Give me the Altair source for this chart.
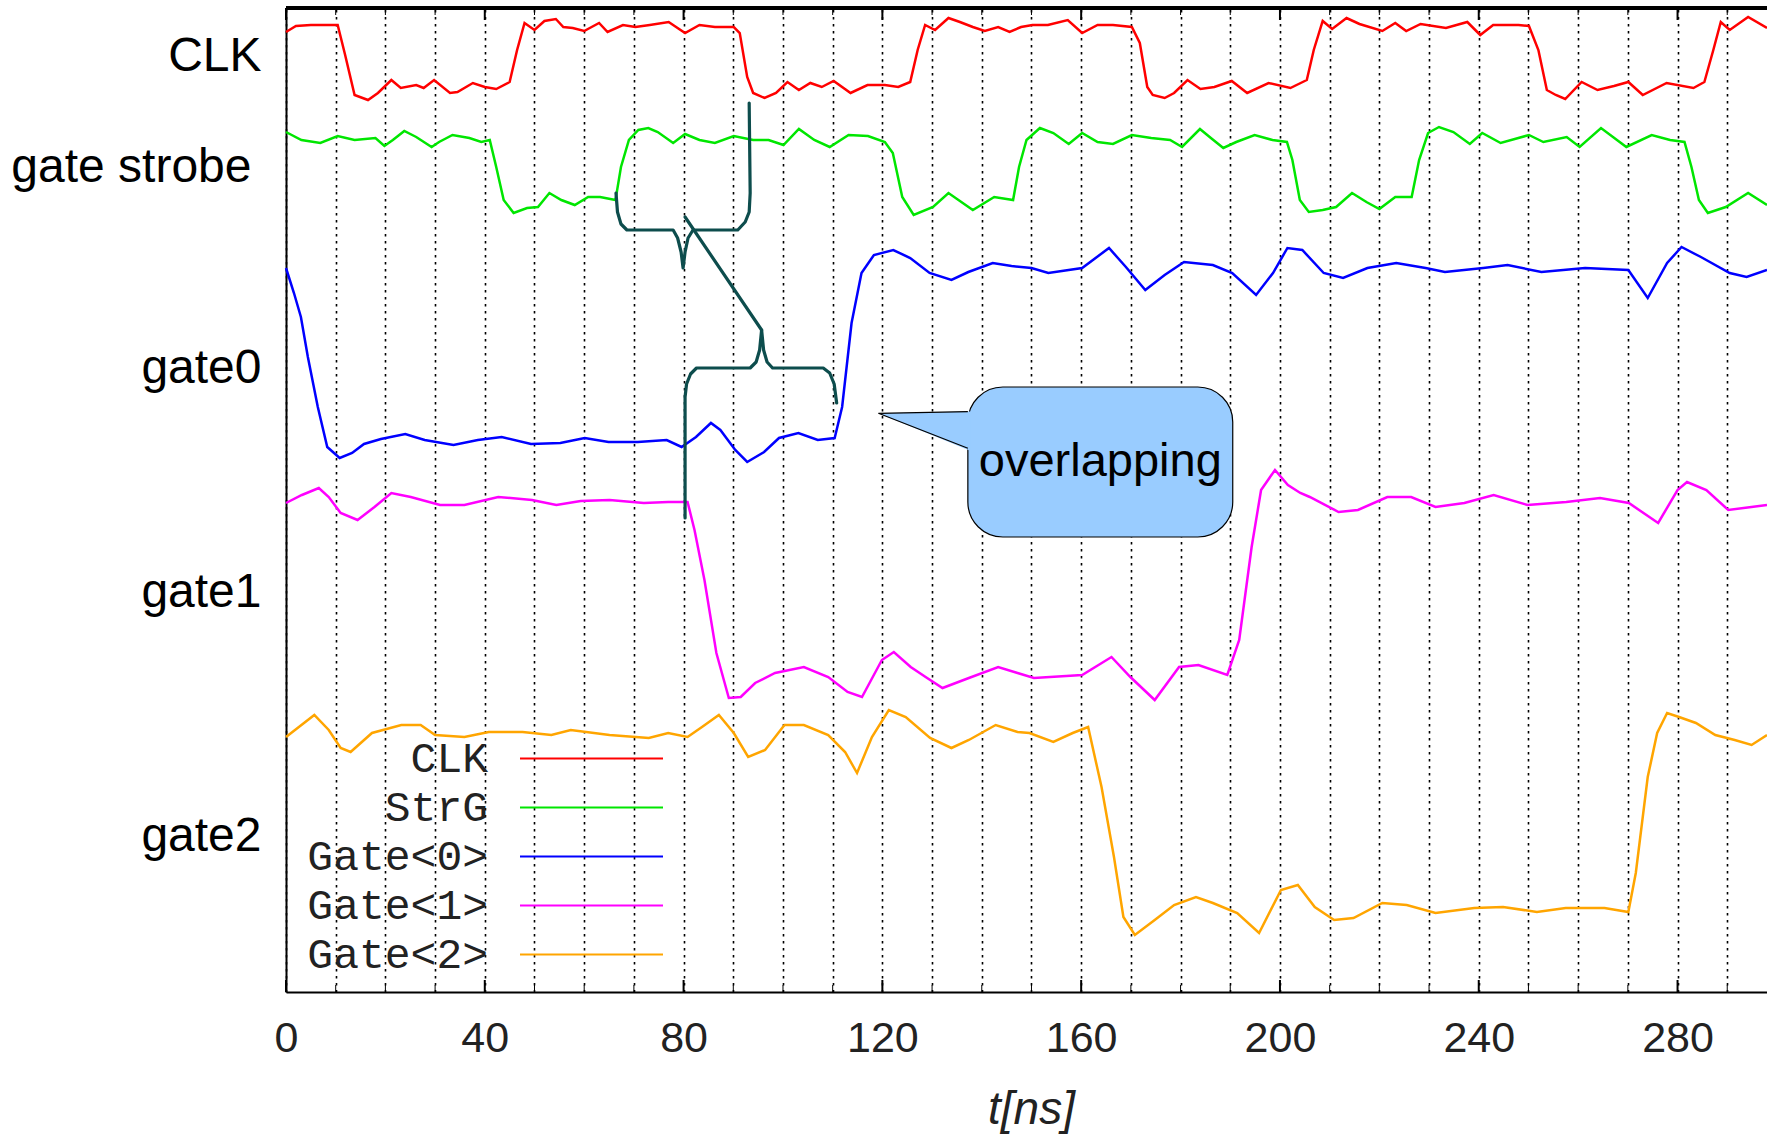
import altair as alt
import pandas as pd

# ---------------- data (t in ns, level = trace height, 8 = top, 992 = bottom) ----
X_TICKS = [0, 10, 20, 30, 40, 50, 60, 70, 80, 90, 100, 110, 120, 130, 140, 150,
           160, 170, 180, 190, 200, 210, 220, 230, 240, 250, 260, 270, 280, 290]
MAJOR_TICKS = [0, 40, 80, 120, 160, 200, 240, 280]

SERIES = ["CLK", "StrG", "Gate<0>", "Gate<1>", "Gate<2>"]
COLORS = ["#ff0000", "#00e600", "#0000ff", "#ff00ff", "#ffa500"]

TRACE_LABELS = ["CLK", "gate strobe", "gate0", "gate1", "gate2"]
TRACE_LABEL_LEVELS = [70, 181, 382, 606, 850]

CLK = [(0, 32), (2, 26), (5, 25), (10.4, 25), (11.9, 55), (13.8, 95), (16.5, 100), (18.5, 93),
       (21.2, 80), (23.1, 88), (26.2, 85), (27.7, 88), (29.8, 80), (33, 93), (34.5, 92), (37.6, 83),
       (40, 87), (42.3, 89), (45, 82), (46.5, 50), (48, 23), (50, 30), (52, 21), (54.3, 19),
       (55.8, 27), (57.7, 28), (60, 31), (63, 23), (64.7, 32), (67.8, 25), (70.3, 27), (73.2, 25),
       (77, 22), (80.3, 33), (83.2, 25), (86.3, 27), (90.1, 27), (91.3, 33), (92.8, 77), (94, 93),
       (96.3, 98), (98.6, 93), (100.9, 82), (103.2, 90), (105.5, 83), (107.8, 87), (110.2, 81),
       (113.6, 93), (117, 85), (120.5, 85), (123.2, 87), (125.6, 82), (127.1, 50), (128.6, 25),
       (130.6, 30), (133.3, 18), (135.6, 22), (138.2, 27), (140.6, 31), (143.3, 27), (145.6, 32),
       (147.9, 27), (150.2, 25), (153.3, 25), (157.3, 20), (160.2, 33), (163.3, 25), (166.4, 25),
       (170.2, 27), (171.8, 43), (173.3, 87), (174.4, 95), (176.8, 98), (178.7, 93), (181.4, 80),
       (184, 89), (186.8, 87), (190.3, 81), (193.4, 93), (197.7, 83), (202.1, 88), (205.4, 80),
       (206.8, 50), (208.6, 21), (210.5, 29), (213.4, 18), (216, 24), (220.6, 31), (223.2, 23),
       (225.4, 31), (228.3, 24), (233.4, 28), (237.7, 22), (240.3, 35), (242.9, 25), (248, 25),
       (250.1, 26), (252, 50), (253.7, 90), (255.5, 95), (257.4, 99), (260.7, 82), (263.9, 90),
       (267.2, 86), (270.1, 82), (273, 95), (277.8, 83), (283.2, 88), (285.4, 82), (287.2, 50),
       (288.7, 22), (290.5, 30), (294.2, 17), (298, 28)]

STRG = [(0, 132), (3.1, 140), (6.9, 143), (10.4, 136), (13.8, 140), (18, 138), (19.8, 146),
        (21.5, 140), (23.8, 131), (26.2, 137), (29.3, 147), (30.8, 142), (33.5, 135), (36.9, 138),
        (39.3, 142), (41, 140), (42.3, 167), (43.8, 200), (45.8, 213), (48.5, 208), (50.7, 207),
        (53, 193), (55.4, 200), (58.1, 205), (60.8, 197), (63.2, 197), (66.3, 200), (67.4, 167),
        (69, 140), (70.9, 130), (72.9, 128), (74.8, 132), (77.9, 143), (80.3, 134), (83.2, 140),
        (86.3, 143), (90.1, 136), (94, 140), (97.1, 140), (100.1, 145), (103.2, 129), (106.3, 140),
        (109.4, 147), (113.2, 135), (117.1, 136), (120.5, 142), (122.1, 153), (124, 197),
        (126.3, 215), (130.2, 207), (133.3, 193), (138.2, 210), (142.5, 197), (146.3, 200),
        (147.5, 167), (149, 140), (151.7, 128), (154.4, 133), (157.5, 144), (160.2, 133),
        (163.3, 142), (166.4, 144), (170.2, 135), (174.1, 138), (177.9, 140), (180.3, 147),
        (183.9, 129), (186.1, 138), (188.6, 148), (191.2, 142), (194.9, 135), (198.5, 140),
        (201.4, 142), (202.5, 160), (204, 200), (205.8, 212), (208.6, 210), (211.3, 207),
        (214.5, 193), (217.4, 202), (220, 209), (223.2, 197), (226.5, 197), (228, 160),
        (229.8, 133), (232, 127), (234.9, 132), (238.2, 144), (240.7, 133), (244.4, 143),
        (250.1, 135), (253, 142), (257.7, 137), (260.3, 147), (264.6, 128), (269.7, 147),
        (274.8, 135), (278.5, 140), (281.4, 142), (282.8, 167), (284.3, 200), (286.1, 213),
        (289.7, 207), (294.2, 193), (298, 205)]

GATE0 = [(0, 268), (1.6, 293), (3, 317), (4.4, 357), (6.4, 407), (8.3, 447), (10.8, 458),
         (13.3, 453), (15.7, 444), (19.1, 439), (24, 434), (27.9, 440), (33.7, 445), (38.6, 440),
         (43.4, 437), (49.3, 444), (55.2, 443), (60.1, 438), (64.9, 442), (70.8, 442), (76.6, 440),
         (79.6, 447), (82.5, 437), (85.5, 423), (87.4, 430), (90.4, 450), (92.8, 462), (96.2, 452),
         (99.2, 438), (103.1, 433), (107, 440), (110.4, 438), (111.9, 407), (113.8, 323),
         (115.8, 273), (118.3, 255), (122.2, 250), (125.6, 258), (129.5, 273), (133.9, 280),
         (137.3, 272), (142.2, 263), (146, 266), (150, 268), (153.4, 273), (160.2, 268),
         (165.6, 248), (169, 267), (172.9, 290), (176.8, 275), (180.7, 262), (186.5, 265),
         (190.4, 273), (195.2, 295), (198.6, 273), (201.5, 248), (204.5, 250), (208.8, 273),
         (212.7, 278), (217.6, 268), (223.4, 263), (229.3, 268), (233.2, 272), (240.9, 268),
         (245.8, 265), (252.6, 272), (261.4, 268), (270.1, 270), (274, 298), (277.9, 263),
         (280.8, 247), (284.7, 257), (290.5, 273), (293.9, 277), (298, 270)]

GATE1 = [(0, 503), (3.2, 495), (6.6, 488), (8.6, 497), (11, 513), (14.4, 520), (17.8, 507),
         (21.2, 493), (25.1, 497), (31, 505), (35.9, 505), (42.7, 497), (49.5, 500), (54.4, 505),
         (59.3, 501), (65.1, 500), (72, 503), (76.9, 502), (80.8, 502), (82.2, 530), (84.2, 580),
         (86.6, 653), (89.1, 698), (91.5, 697), (94.4, 683), (98.4, 673), (104.2, 667),
         (109.1, 677), (113, 692), (115.9, 697), (119.9, 660), (122.3, 652), (125.7, 667),
         (128.7, 677), (132.1, 688), (137.4, 678), (143.3, 667), (147.2, 673), (150.5, 678),
         (160.2, 675), (166.1, 657), (169.9, 677), (174.8, 700), (179.7, 667), (183.6, 665),
         (189.4, 675), (191.8, 640), (194.3, 547), (196.2, 490), (199, 470), (201.6, 485),
         (204.1, 493), (206, 497), (211.8, 512), (215.7, 510), (221.6, 497), (226.4, 497),
         (231.3, 507), (237.1, 503), (243, 495), (249.8, 505), (257.6, 502), (264.4, 498),
         (270.2, 503), (276.1, 523), (280, 490), (281.9, 482), (285.8, 490), (290.2, 510),
         (298, 505)]

GATE2 = [(0, 737), (5.7, 715), (8.6, 730), (11, 748), (13, 752), (17.3, 733), (23.2, 725),
         (27.1, 725), (30, 735), (35.9, 737), (40.8, 732), (47.6, 732), (53.4, 735), (57.3, 730),
         (65.1, 735), (73, 738), (76.9, 733), (80.8, 737), (83.7, 727), (87.1, 715), (90.1, 733),
         (93, 757), (96.4, 750), (100.3, 725), (104.2, 725), (109.1, 735), (112.5, 752),
         (114.9, 773), (117.9, 737), (121.3, 710), (124.7, 717), (129.6, 738), (133.9, 748),
         (137.4, 740), (142.8, 725), (147.2, 732), (149.6, 733), (154.4, 742), (158.3, 733),
         (161.4, 727), (164.1, 787), (166.6, 857), (168.5, 917), (170.8, 935), (174.8, 920),
         (178.7, 905), (183.1, 897), (186.5, 903), (191.4, 913), (195.8, 933), (200.2, 890),
         (203.6, 885), (207, 907), (210.9, 920), (214.8, 918), (220.6, 903), (225.5, 905),
         (231.3, 913), (239.1, 908), (244.9, 907), (251.7, 912), (257.5, 908), (265.3, 908),
         (270.1, 912), (271.6, 873), (274, 777), (275.9, 733), (277.9, 713), (280.3, 717),
         (283.7, 723), (287.6, 735), (291.5, 740), (294.9, 745), (298, 735)]

# annotation shapes (t, level)
UPPER_BRACE = [(93.2, 103), (93.4, 193), (93.2, 212), (92.4, 222), (90.9, 230), (81.9, 230),
               (80.9, 238), (80.3, 252), (79.9, 268), (79.5, 252), (78.8, 238), (77.9, 230),
               (68.6, 230), (67.4, 224), (66.7, 212), (66.4, 193)]
DIAGONAL = [(80.3, 217), (95.7, 330)]
LOWER_BRACE = [(80.3, 518), (80.3, 397), (80.6, 384), (81.4, 374), (82.6, 368), (93.4, 368),
               (94.6, 362), (95.3, 350), (95.7, 330), (96.1, 350), (96.8, 362), (97.9, 368),
               (108.1, 368), (109.4, 373), (110.3, 384), (110.8, 403)]
CALLOUT_BOX = {"t1": 137.2, "t2": 190.5, "l1": 387, "l2": 537}
POINTER_FILL = [(119.2, 413.3, 413.3), (137.8, 411.6, 451.0)]
POINTER_EDGES = [(137.2, 411.7), (119.2, 413.3), (137.2, 448.3)]
CALLOUT_TEXT = "overlapping"
CALLOUT_POS = (163.85, 462)

# ---------------- tables ----------------
rows = []
for name, pts in zip(SERIES, [CLK, STRG, GATE0, GATE1, GATE2]):
    for i, (t, v) in enumerate(pts):
        rows.append({"t": t, "level": v, "series": name, "i": i})
traces = pd.DataFrame(rows)

brows = []
for piece, pts in [("upper", UPPER_BRACE), ("diag", DIAGONAL), ("lower", LOWER_BRACE)]:
    for i, (t, v) in enumerate(pts):
        brows.append({"t": t, "level": v, "piece": piece, "i": i})
braces = pd.DataFrame(brows)

box = pd.DataFrame([dict(CALLOUT_BOX, cx=CALLOUT_POS[0], cy=CALLOUT_POS[1])])
ptr_fill = pd.DataFrame([{"t": a, "top": b, "bottom": c} for a, b, c in POINTER_FILL])
ptr_edges = pd.DataFrame([{"t": a, "level": b, "i": i} for i, (a, b) in enumerate(POINTER_EDGES)])
ticks = pd.DataFrame({"t": X_TICKS, "major": [t in MAJOR_TICKS for t in X_TICKS]})

W, H = 1481, 984
xscale = alt.Scale(domain=[0, 298], nice=False, zero=False)
yscale = alt.Scale(domain=[8, 992], nice=False, zero=False, reverse=True)

ylabel_expr = " : ".join(
    f"datum.value == {v} ? '{n}'" for v, n in zip(TRACE_LABEL_LEVELS, TRACE_LABELS)) + " : ''"

x_axis = alt.Axis(values=X_TICKS, labelExpr="datum.value % 40 === 0 ? datum.label : ''",
                  labelFont="Liberation Sans", labelFontSize=43, labelColor="#222222",
                  labelPadding=25, labelFlush=False, labelOverlap=False,
                  ticks=False, tickSize=0, domain=True, domainColor="black", domainWidth=2,
                  grid=True, gridColor="black", gridDash=[2.5, 4.5], gridWidth=1.6,
                  gridOpacity=1,
                  title="t[ns]", titleFont="Liberation Sans", titleFontSize=46,
                  titleFontStyle="italic", titleFontWeight="normal", titleColor="#222222",
                  titlePadding=27, titleX=745)
y_axis = alt.Axis(values=TRACE_LABEL_LEVELS, labelExpr=ylabel_expr, title=None,
                  ticks=False, tickSize=0, grid=False, labelFont="Liberation Sans",
                  labelFontSize=48, labelColor="black",
                  labelPadding={"condition": {"test": f"datum.value == {TRACE_LABEL_LEVELS[1]}",
                                              "value": 35}, "value": 25},
                  labelBaseline="alphabetic", labelAlign="right", labelOverlap=False,
                  labelLimit=0, domain=True, domainColor="black", domainWidth=2)


def X(f="t"):
    return alt.X(f"{f}:Q", scale=xscale, axis=x_axis)


def Y(f="level"):
    return alt.Y(f"{f}:Q", scale=yscale, axis=y_axis)


# legend: long horizontal stroke symbol to the right of right-aligned labels
lines = alt.Chart(traces).mark_line(strokeWidth=2.5).encode(
    x=X(), y=Y(),
    color=alt.Color("series:N", scale=alt.Scale(domain=SERIES, range=COLORS),
                    legend=alt.Legend(orient="none", legendX=284, legendY=729, title=None,
                                      symbolType="M-5,0H5", symbolSize=818,
                                      symbolStrokeWidth=2.2, symbolFillColor="transparent",
                                      labelFont="Liberation Mono",
                                      labelFontSize=43, labelColor="#222222",
                                      labelAlign="right", labelOffset=alt.ExprRef("-125"),
                                      labelLimit=0, rowPadding=5, padding=0)),
    order="i:Q",
)

brace_layer = alt.Chart(braces).mark_line(color="#0d4d4d", strokeWidth=3.2, strokeJoin="round",
                                          strokeCap="round").encode(
    x=X(), y=Y(), detail="piece:N", order="i:Q")

box_layer = alt.Chart(box).mark_rect(fill="#99ccff", stroke="black", strokeWidth=1.2,
                                     cornerRadius=35).encode(
    x=X("t1"), x2="t2:Q", y=Y("l1"), y2="l2:Q")

ptr_layer = alt.Chart(ptr_fill).mark_area(color="#99ccff", opacity=1).encode(
    x=X(), y=Y("top"), y2="bottom:Q")

ptr_edge_layer = alt.Chart(ptr_edges).mark_line(color="black", strokeWidth=1.2).encode(
    x=X(), y=Y(), order="i:Q")

text_layer = alt.Chart(box).mark_text(text=CALLOUT_TEXT, font="Liberation Sans", fontSize=47,
                                      color="black", align="center", baseline="middle").encode(
    x=X("cx"), y=Y("cy"))

major_bottom = alt.Chart(ticks).transform_filter("datum.major").mark_rule(
    color="black", strokeWidth=2).encode(x=X(), y=alt.value(H - 12), y2=alt.value(H))
minor_bottom = alt.Chart(ticks).transform_filter("!datum.major").mark_rule(
    color="black", strokeWidth=1).encode(x=X(), y=alt.value(H - 7), y2=alt.value(H))
major_top = alt.Chart(ticks).transform_filter("datum.major").mark_rule(
    color="black", strokeWidth=2).encode(x=X(), y=alt.value(0), y2=alt.value(12))
minor_top = alt.Chart(ticks).transform_filter("!datum.major").mark_rule(
    color="black", strokeWidth=1).encode(x=X(), y=alt.value(0), y2=alt.value(7))
top_border = alt.Chart(ticks).mark_rule(color="black", strokeWidth=2.5).encode(
    x=alt.value(0), x2=alt.value(W + 5), y=alt.value(0))

chart = alt.layer(
    lines, brace_layer, box_layer, ptr_layer, ptr_edge_layer, text_layer,
    major_bottom, minor_bottom, major_top, minor_top, top_border,
).properties(
    width=W, height=H,
    autosize=alt.AutoSizeParams(type="none"),
    padding={"left": 286, "top": 8, "right": 0, "bottom": 142},
    background="white",
).configure_view(stroke=None)

chart.save("out.html", embed_options={"renderer": "svg", "actions": False})
